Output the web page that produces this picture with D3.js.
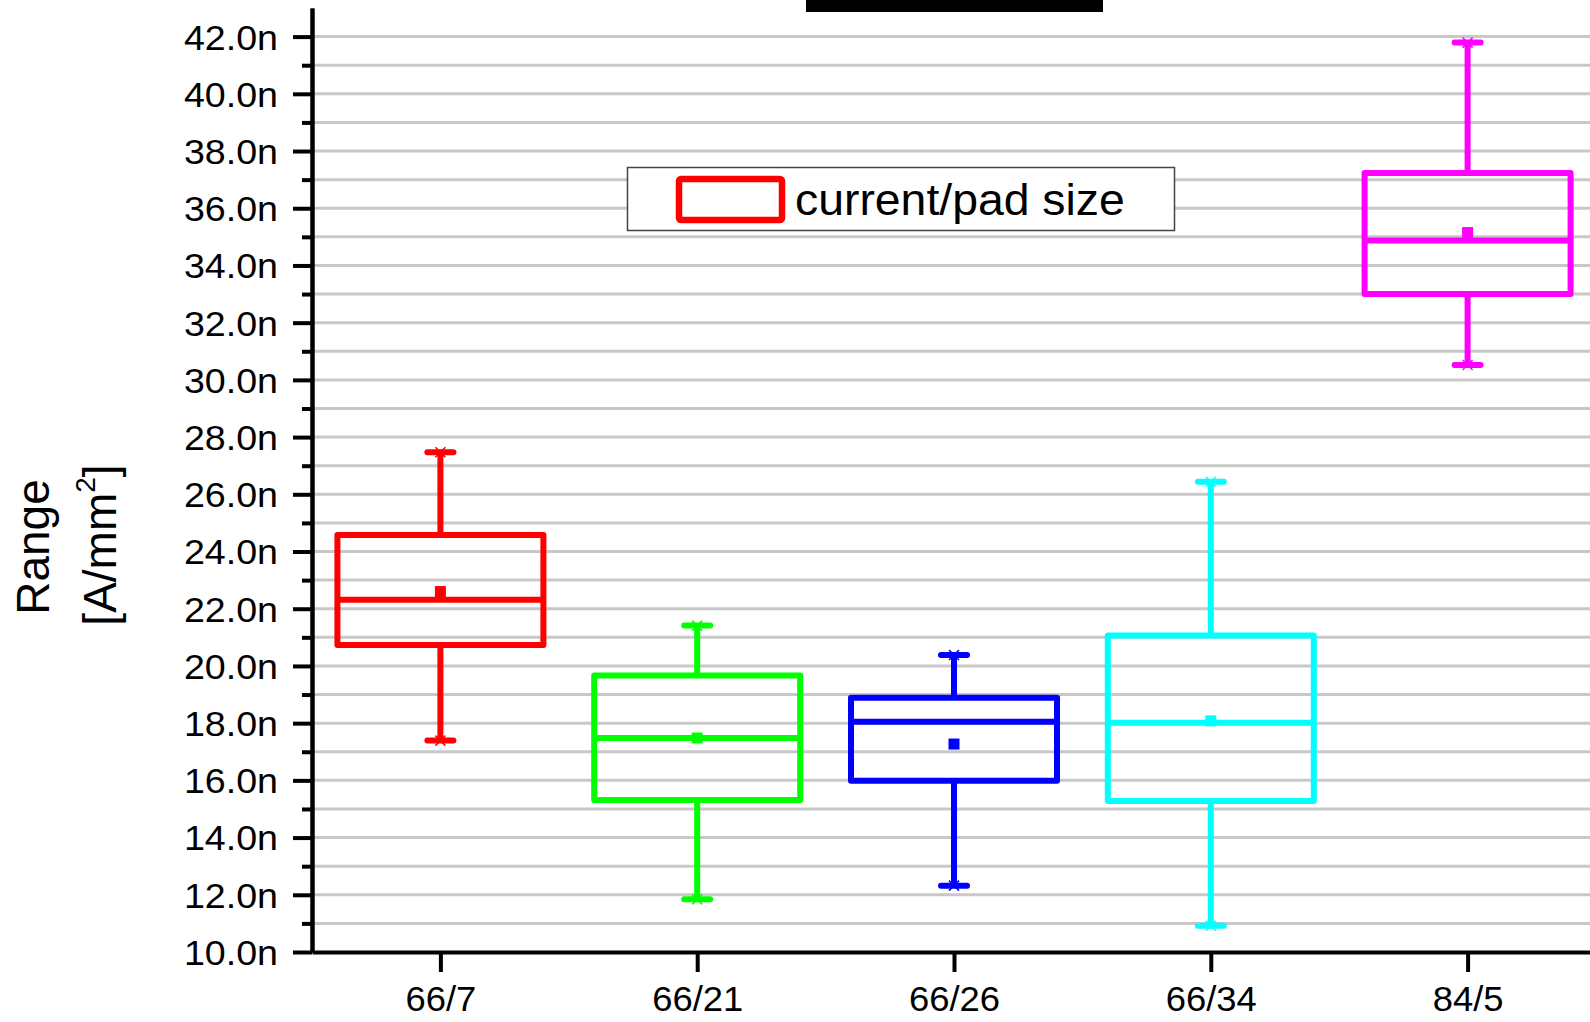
<!DOCTYPE html>
<html lang="en">
<head>
  <meta charset="UTF-8" />
  <title>Range box chart</title>
  <style>
    body { margin: 0; background: #fff; font-family: "Liberation Sans", Arial, sans-serif; }
    svg { display: block; }
    .grid line { stroke: #c8c8c8; stroke-width: 3px; }
    .axis path, .axis line { stroke: #000; stroke-width: 4px; }
    .axis text { fill: #000; font-family: "Liberation Sans", Arial, sans-serif; }
  </style>
</head>
<body>
<svg id="chart"></svg>
<script src="https://d3js.org/d3.v7.min.js"></script>
<script>
  const categories = ["66/7", "66/21", "66/26", "66/34", "84/5"];
  const whiskerLow = [17.39, 11.84, 12.32, 10.92, 30.52];
  const q1 = [20.73, 15.31, 15.99, 15.28, 33.0];
  const median = [22.31, 17.48, 18.05, 18.01, 34.87];
  const q3 = [24.58, 19.67, 18.89, 21.06, 37.23];
  const whiskerHigh = [27.47, 21.41, 20.38, 26.44, 41.79];
  const mean = [22.6, 17.48, 17.27, 18.08, 35.15];
  const colors = ["#ff0000", "#00ff00", "#0000ff", "#00ffff", "#ff00ff"];
  const majorTicks = d3.range(10, 43, 2);
  const minorTicks = d3.range(11, 43, 2);

  const width = 1590, height = 1022;
  const svg = d3.select("#chart").attr("width", width).attr("height", height);

  const x = d3.scaleLinear().domain([0.5, 5.5]).range([312, 1596]);
  const y = d3.scaleLinear().domain([10, 43]).range([952, 8]);
  const boxW = 206;

  // the reference text is a little wider than Liberation Sans
  function stretch(sel, k) {
    sel.each(function() {
      const w = this.getComputedTextLength();
      d3.select(this).attr("textLength", w * k).attr("lengthAdjust", "spacingAndGlyphs");
    });
  }

  // grid lines, one per unit
  svg.append("g").attr("class", "grid")
    .selectAll("line")
    .data(d3.range(11, 43))
    .enter().append("line")
    .attr("x1", 312).attr("x2", width)
    .attr("y1", d => y(d)).attr("y2", d => y(d));

  // boxes
  const data = categories.map((c, i) => ({
    i: i + 1, lo: whiskerLow[i], q1: q1[i], med: median[i], q3: q3[i], hi: whiskerHigh[i], mean: mean[i], color: colors[i]
  }));

  const g = svg.append("g").selectAll("g.box")
    .data(data)
    .enter().append("g")
    .attr("class", "box")
    .attr("stroke", d => d.color)
    .attr("fill", "none");

  g.append("line")
    .attr("x1", d => x(d.i)).attr("x2", d => x(d.i))
    .attr("y1", d => y(d.hi)).attr("y2", d => y(d.q3))
    .attr("stroke-width", 6);
  g.append("line")
    .attr("x1", d => x(d.i)).attr("x2", d => x(d.i))
    .attr("y1", d => y(d.q1)).attr("y2", d => y(d.lo))
    .attr("stroke-width", 6);

  ["hi", "lo"].forEach(k => {
    g.append("line")
      .attr("x1", d => x(d.i) - 13).attr("x2", d => x(d.i) + 13)
      .attr("y1", d => y(d[k])).attr("y2", d => y(d[k]))
      .attr("stroke-width", 6).attr("stroke-linecap", "round");
    // small x marker
    g.append("path")
      .attr("d", d => {
        const cx = x(d.i), cy = y(d[k]), s = 5;
        return `M${cx - s},${cy - s}L${cx + s},${cy + s}M${cx - s},${cy + s}L${cx + s},${cy - s}`;
      })
      .attr("stroke-width", 1.5);
  });

  g.append("rect")
    .attr("x", d => x(d.i) - boxW / 2)
    .attr("width", boxW)
    .attr("y", d => y(d.q3))
    .attr("height", d => y(d.q1) - y(d.q3))
    .attr("stroke-width", 6)
    .attr("stroke-linejoin", "round");

  g.append("line")
    .attr("x1", d => x(d.i) - boxW / 2).attr("x2", d => x(d.i) + boxW / 2)
    .attr("y1", d => y(d.med)).attr("y2", d => y(d.med))
    .attr("stroke-width", 6);

  g.append("rect")
    .attr("x", d => x(d.i) - 5.5).attr("y", d => y(d.mean) - 5.5)
    .attr("width", 11).attr("height", 11)
    .attr("stroke", "none")
    .attr("fill", d => d.color);

  // axes
  svg.append("g").attr("class", "axis")
    .attr("transform", "translate(312,0)")
    .call(d3.axisLeft(y).tickValues(minorTicks).tickSize(10).tickSizeOuter(0).tickFormat(""));

  const yAxis = svg.append("g").attr("class", "axis")
    .attr("transform", "translate(312,0)")
    .call(d3.axisLeft(y).tickValues(majorTicks).tickSize(19).tickSizeOuter(0).tickPadding(15)
      .tickFormat(d => d.toFixed(1) + "n"));
  yAxis.selectAll("text").style("font-size", "34.5px").attr("dy", "0.36em").call(stretch, 1.09);

  const xAxis = svg.append("g").attr("class", "axis")
    .attr("transform", "translate(0,952)")
    .call(d3.axisBottom(x).tickValues([1, 2, 3, 4, 5]).tickSize(20).tickSizeOuter(0).tickPadding(14)
      .tickFormat(i => categories[i - 1]));
  xAxis.selectAll("text").style("font-size", "35px").call(stretch, 1.04);

  // y axis title
  const yt = svg.append("text")
    .attr("transform", "translate(0,545) rotate(-90)")
    .attr("text-anchor", "middle")
    .style("font-size", "46px");
  yt.append("tspan").attr("x", -2).attr("y", 49).text("Range");
  const t2 = yt.append("tspan").attr("x", 0).attr("y", 116).text("[A/mm");
  t2.append("tspan").attr("dy", -21).style("font-size", "28px").text("2");
  t2.append("tspan").attr("dy", 21).text("]");

  // legend
  const lg = svg.append("g");
  lg.append("rect")
    .attr("x", 627.5).attr("y", 167.5).attr("width", 547).attr("height", 63)
    .attr("fill", "#fff").attr("stroke", "#444").attr("stroke-width", 1.5);
  lg.append("rect")
    .attr("x", 679).attr("y", 179).attr("width", 103).attr("height", 41).attr("rx", 2)
    .attr("fill", "none").attr("stroke", colors[0]).attr("stroke-width", 6.5);
  lg.append("text")
    .attr("x", 795).attr("y", 215)
    .style("font-size", "45px")
    .text("current/pad size")
    .call(stretch, 1.03);

  // black bar at top (cut title)
  svg.append("rect")
    .attr("x", 806).attr("y", 0).attr("width", 297).attr("height", 12)
    .attr("fill", "#000");
</script>
</body>
</html>
